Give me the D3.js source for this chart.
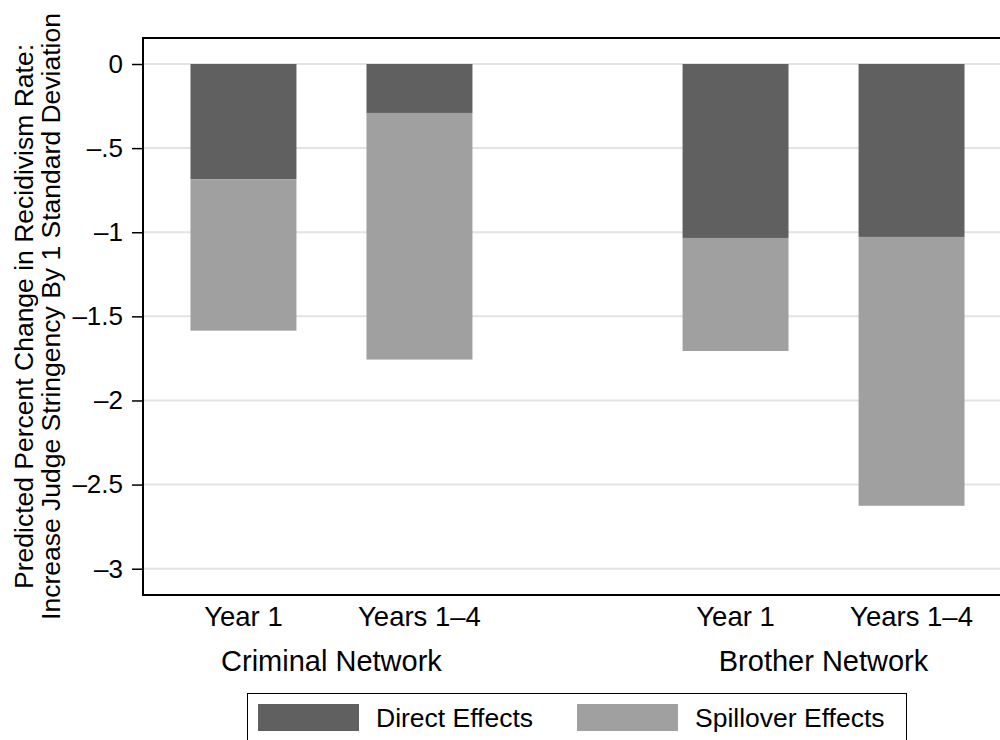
<!DOCTYPE html>
<html>
<head>
<meta charset="utf-8">
<script src="https://cdn.jsdelivr.net/npm/d3@7"></script>
<style>
  body { margin: 0; background: #fff; }
  text { font-family: "Liberation Sans", Arial, Helvetica, sans-serif; fill: #000; }
</style>
</head>
<body>
<div id="chart"></div>
<script>
const networks = ["Criminal Network", "Brother Network"];
const periods = ["Year 1", "Years 1\u20134"];
const seriesNames = ["Direct Effects", "Spillover Effects"];
// values per network, per period
const directEffects = [[-0.685, -0.291], [-1.034, -1.028]];
const spilloverEffects = [[-0.900, -1.466], [-0.672, -1.598]];
const yTicks = [0, -0.5, -1, -1.5, -2, -2.5, -3];
const yTitle = ["Predicted Percent Change in Recidivism Rate:",
                "Increase Judge Stringency By 1 Standard Deviation"];

const colors = { "Direct Effects": "#606060", "Spillover Effects": "#a0a0a0" };

const svgWidth = 1000, svgHeight = 740;
const plot = { left: 143, top: 38, bottom: 595, right: 1012 };

const svg = d3.select("#chart").append("svg")
    .attr("width", svgWidth)
    .attr("height", svgHeight);

const y = d3.scaleLinear()
    .domain([0, -3])
    .range([64, 568.7]);

const xGroup = d3.scalePoint()
    .domain(networks)
    .range([plot.left, plot.right])
    .padding(0.383);

const xBar = d3.scaleBand()
    .domain(periods)
    .range([-176, 176])
    .paddingInner(0.398)
    .paddingOuter(0.199);

// gridlines
svg.append("g")
    .selectAll("line")
    .data(yTicks)
    .join("line")
    .attr("x1", plot.left)
    .attr("x2", svgWidth)
    .attr("y1", d => y(d))
    .attr("y2", d => y(d))
    .attr("stroke", "#e3e3e3")
    .attr("stroke-width", 2);

// stacked bars
const rows = [];
networks.forEach((n, i) => {
    periods.forEach((p, j) => {
        const d0 = directEffects[i][j];
        const s0 = spilloverEffects[i][j];
        rows.push({ network: n, period: p, series: "Direct Effects", y0: 0, y1: d0 });
        rows.push({ network: n, period: p, series: "Spillover Effects", y0: d0, y1: d0 + s0 });
    });
});

svg.append("g")
    .selectAll("rect")
    .data(rows)
    .join("rect")
    .attr("x", d => xGroup(d.network) + xBar(d.period))
    .attr("width", xBar.bandwidth())
    .attr("y", d => y(d.y0))
    .attr("height", d => y(d.y1) - y(d.y0))
    .attr("fill", d => colors[d.series]);

// frame
svg.append("path")
    .attr("stroke", "#000")
    .attr("stroke-width", 2)
    .attr("fill", "none")
    .attr("d", `M${svgWidth + 5},${plot.top}H${plot.left}V${plot.bottom}H${svgWidth + 5}`);

// y axis
const yAxis = svg.append("g")
    .attr("transform", `translate(${plot.left},0)`)
    .call(d3.axisLeft(y)
        .tickValues(yTicks)
        .tickSize(11)
        .tickPadding(9)
        .tickFormat(d => d === 0 ? "0" : "\u2013" + String(Math.abs(d)).replace(/^0\./, ".")));
yAxis.select(".domain").remove();
yAxis.selectAll(".tick line").attr("stroke", "#000").attr("stroke-width", 1.5);
yAxis.selectAll(".tick text")
    .attr("font-size", 26)
    .attr("font-family", "Liberation Sans, Arial, sans-serif")
    .attr("fill", "#000");

// x labels
const xLabels = svg.append("g");
networks.forEach(n => {
    periods.forEach(p => {
        xLabels.append("text")
            .attr("x", xGroup(n) + xBar(p) + xBar.bandwidth() / 2)
            .attr("y", 626)
            .attr("text-anchor", "middle")
            .attr("font-size", 27.5)
            .text(p);
    });
    xLabels.append("text")
        .attr("x", xGroup(n))
        .attr("y", 671)
        .attr("text-anchor", "middle")
        .attr("font-size", 29)
        .text(n);
});

// y title
const midY = (plot.top + plot.bottom) / 2;
yTitle.forEach((t, i) => {
    svg.append("text")
        .attr("transform", `translate(${33 + i * 27},${midY}) rotate(-90)`)
        .attr("text-anchor", "middle")
        .attr("font-size", 26.5)
        .text(t);
});

// legend
const legend = svg.append("g");
legend.append("rect")
    .attr("x", 247.5)
    .attr("y", 693.5)
    .attr("width", 659)
    .attr("height", 60)
    .attr("fill", "#fff")
    .attr("stroke", "#000")
    .attr("stroke-width", 1);
const legendX = d3.scaleOrdinal().domain(seriesNames).range([258, 577]);
seriesNames.forEach(s => {
    legend.append("rect")
        .attr("x", legendX(s))
        .attr("y", 704)
        .attr("width", 101)
        .attr("height", 27)
        .attr("fill", colors[s]);
    legend.append("text")
        .attr("x", legendX(s) + 118)
        .attr("y", 727)
        .attr("font-size", 26.5)
        .text(s);
});
</script>
</body>
</html>
